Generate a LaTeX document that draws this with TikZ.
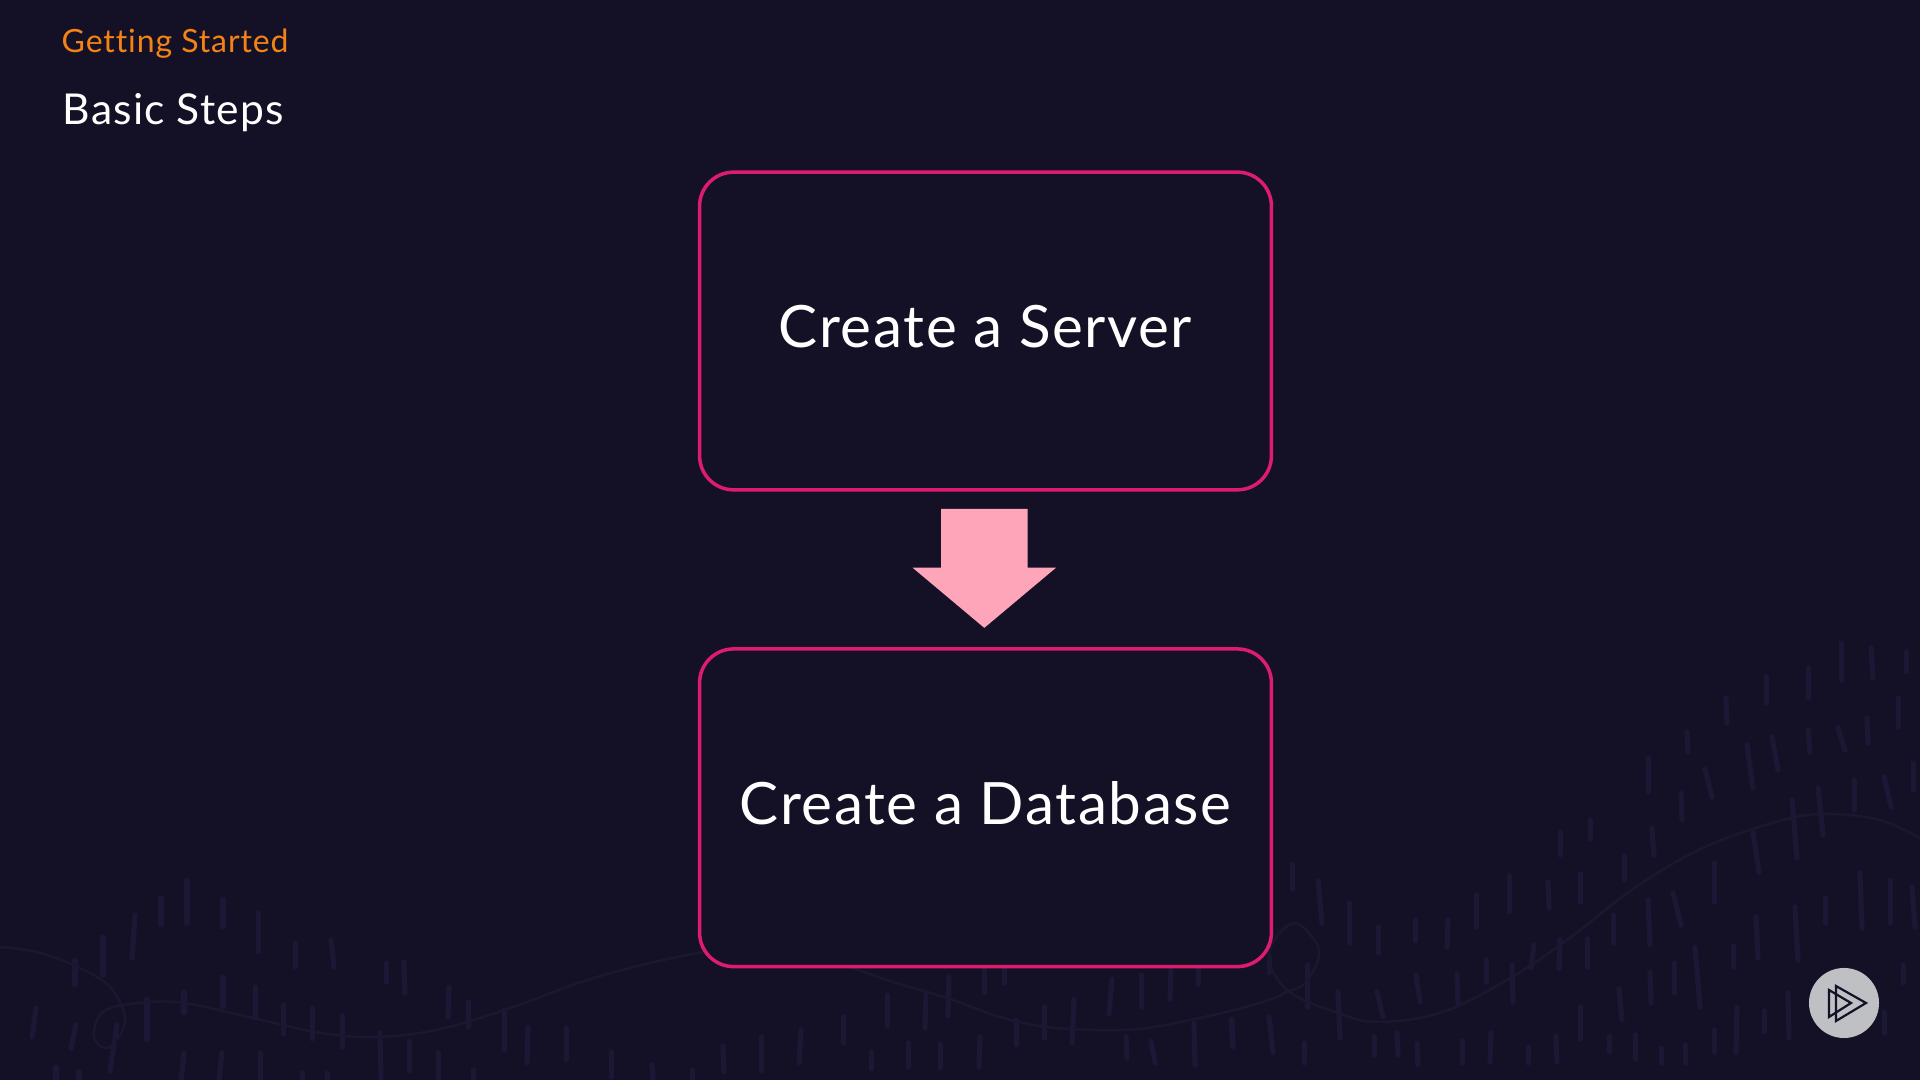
\documentclass[tikz,border=0pt]{standalone}
\usepackage{fontspec}
\setmainfont[LetterSpace=2.8, Ligatures=NoCommon]{Lato}
\usetikzlibrary{positioning, shapes.arrows}
\definecolor{slidebg}{HTML}{141126}
\definecolor{tickcol}{HTML}{1B1836}
\definecolor{wavecol}{HTML}{1A1730}
\definecolor{boxline}{HTML}{DE1C6E}
\definecolor{arrowpink}{HTML}{FFA5B9}
\definecolor{headorange}{HTML}{F58214}
\definecolor{badgegrey}{HTML}{BFC0C4}
\tikzset{
    tick/.style = {tickcol, line width = 0.05cm, line cap = round},
    wave/.style = {wavecol, line width = 0.025cm},
    stepbox/.style = {draw = boxline, fill = slidebg, line width = 0.035cm, rounded corners = 0.34cm,
        minimum width = 5.715cm, minimum height = 3.175cm, text = white, text depth = 0.09cm,
        font = \fontsize{16.6pt}{19pt}\selectfont},
    icon/.style = {draw = slidebg, line width = 0.022cm, line join = miter}
}
\begin{document}
\begin{tikzpicture}[x = 0.01cm, y = -0.01cm]
    \fill[slidebg] (0, 0) rectangle (1920, 1080);
    \useasboundingbox (0, 0) rectangle (1920, 1080);
    \foreach \xa/\ya/\xb/\yb in {
        187/880/187/923, 161/898/161/925, 135/915/132/958, 103/937/103/975, 75/960/75/985,
        223/899/223/927, 258/913/258/952, 295/943/295/967, 331/940/334/967, 386/963/386/982,
        404/962/405/993, 449/987/448/1017, 468/1002/468/1027, 504/1010/504/1050, 528/1027/527/1063,
        566/1028/566/1060, 611/1052/611/1077, 652/1065/653/1080, 692/1070/692/1080,
        223/977/223/1007, 255/987/255/1018, 283/1005/283/1034, 312/1008/312/1039, 342/1016/342/1047,
        380/1033/381/1078, 409/1041/409/1071, 438/1053/438/1080, 473/1070/473/1080,
        184/992/184/1013, 147/999/147/1040, 117/1025/110/1071, 76/1025/71/1048, 36/1008/32/1037,
        184/1053/181/1080, 222/1053/219/1080, 260/1053/260/1080, 56/1067/56/1080, 79/1072/79/1080,
        302/1073/302/1080, 327/1073/327/1080,
        723/1046/724/1072, 761/1037/761/1071, 801/1030/799/1063, 843/1017/843/1043, 871/1052/871/1069,
        887/995/887/1026, 908/1043/908/1067, 926/993/925/1028, 940/1044/940/1068, 949/977/948/1016,
        980/1037/979/1067, 984/968/984/993, 1004/968/1004/983, 1016/1020/1016/1045, 1044/1007/1044/1038,
        1074/999/1072/1043, 1112/979/1109/1014, 1141/975/1141/1007, 1171/970/1170/999, 1198/968/1198/984,
        1126/1037/1127/1058, 1151/1041/1155/1063, 1194/1023/1195/1065, 1232/1019/1233/1047,
        1269/1017/1273/1053, 1269/957/1269/973,
        1841/643/1841/680, 1871/648/1873/678, 1906/652/1906/672, 1808/668/1808/698, 1766/677/1766/703,
        1726/698/1727/723, 1898/698/1898/727, 1687/732/1688/752, 1772/737/1778/770, 1808/730/1810/752,
        1838/728/1845/750, 1867/718/1868/743, 1747/745/1753/788, 1648/758/1648/792, 1705/769/1712/797,
        1681/793/1682/820, 1818/788/1823/835, 1854/780/1854/810, 1884/777/1891/807, 1913/763/1913/790,
        1792/800/1797/858, 1753/832/1759/872, 1714/863/1714/902, 1652/828/1654/855, 1590/820/1590/839,
        1560/832/1560/855, 1624/856/1624/880, 1580/874/1580/902, 1548/882/1549/908, 1509/876/1509/912,
        1476/895/1476/927, 1292/864/1292/889, 1318/881/1322/923, 1349/903/1349/943, 1378/927/1378/953,
        1415/920/1415/941, 1448/920/1447/947, 1613/915/1613/943, 1648/900/1650/945, 1673/893/1681/925,
        1587/939/1587/967, 1560/940/1559/969, 1534/945/1531/968, 1486/960/1486/982, 1512/965/1513/1002,
        1416/975/1420/1002, 1457/974/1458/1005, 1307/965/1307/1007, 1338/992/1340/1038, 1377/992/1383/1017,
        1231/1020/1233/1047, 1304/1043/1304/1063, 1374/1037/1374/1055, 1397/1033/1398/1055,
        1417/1043/1418/1065, 1462/1041/1462/1063, 1491/1033/1490/1062, 1528/1047/1528/1063,
        1556/1036/1557/1062, 1580/1007/1580/1039, 1609/1036/1609/1052, 1635/1035/1635/1059,
        1661/1048/1661/1063, 1685/1045/1685/1063, 1714/1030/1714/1052, 1737/1007/1736/1053,
        1619/989/1622/1020, 1650/972/1651/1003, 1674/963/1674/993, 1695/947/1700/1007, 1733/946/1733/967,
        1756/917/1758/958, 1795/907/1798/960, 1825/898/1825/923, 1860/873/1862/928, 1890/880/1890/923,
        1912/887/1915/927, 1903/965/1903/983, 1788/993/1789/1038, 1764/1011/1764/1032, 1884/1012/1884/1033}{
        \draw[tick] (\xa, \ya) -- (\xb, \yb);
    }
    \draw[wave] plot[smooth, tension = 0.6] coordinates {(0, 947) (37, 952) (73, 965) (106, 983) (122, 1007)
        (124, 1027) (108, 1048) (94, 1037) (103, 1012) (138, 1003) (184, 1003) (253, 1018) (321, 1033) (376, 1037)
        (436, 1030) (505, 1010) (597, 977) (698, 953) (775, 945) (852, 968) (893, 982) (947, 998) (1000, 1017)
        (1047, 1027) (1097, 1030) (1147, 1028) (1213, 1015) (1263, 1002) (1287, 992) (1306, 982) (1319, 950)
        (1294, 923) (1269, 953) (1287, 990) (1338, 1013) (1379, 1022) (1443, 1012) (1512, 977) (1567, 940)
        (1636, 887) (1705, 847) (1783, 820) (1829, 814) (1880, 820) (1920, 838)};
    \node[anchor = base west, inner sep = 0pt, text = headorange, font = \fontsize{9.1pt}{11pt}\selectfont] (topic) at (61, 53) {Getting Started};
    \node[anchor = base west, inner sep = 0pt, text = white, font = \fontsize{12.1pt}{14pt}\selectfont] (title) at (62, 125) {Basic Steps};
    \node[stepbox] (server) at (985.5, 331) {Create a Server};
    \node[stepbox, below = 1.555cm of server] (database) {Create a Database};
    \node[single arrow, fill = arrowpink, shape border rotate = 270, inner sep = 0pt, text width = 0.85cm, minimum width = 1.42cm,
        minimum height = 1.19cm, single arrow head extend = 0.285cm, single arrow head indent = 0cm, single arrow tip angle = 100,
        below = 0.165cm of server, xshift = -0.012cm] (flow) {};
    \node[circle, fill = badgegrey, minimum size = 0.7cm, inner sep = 0pt] (badge) at (1844, 1003) {};
    \draw[icon] (1836, 986) -- (1866, 1003) -- (1836, 1021) -- cycle;
    \draw[icon] (1829, 990) -- (1851, 1003) -- (1829, 1017) -- cycle;
\end{tikzpicture}
\end{document}
